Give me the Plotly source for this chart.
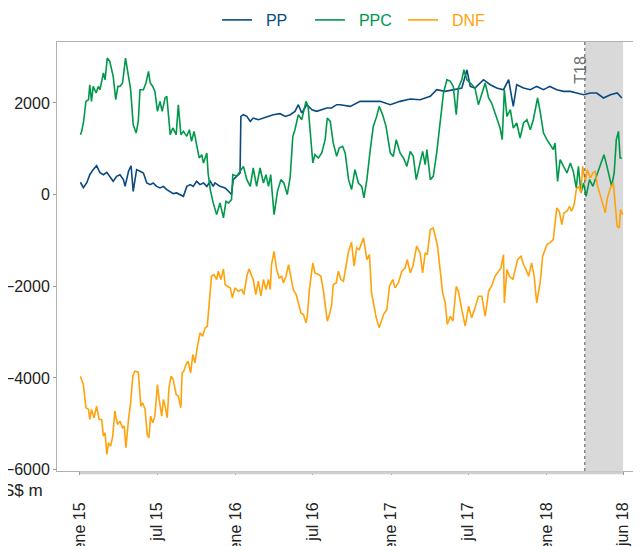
import plotly.graph_objects as go

# ---------------- data ----------------
pp_dates = ["2015-01-02","2015-01-09","2015-01-17","2015-01-24","2015-02-01","2015-02-09","2015-02-17","2015-02-25",
            "2015-03-05","2015-03-12","2015-03-20","2015-03-28","2015-04-05","2015-04-13","2015-04-17","2015-04-25",
            "2015-05-01","2015-05-06","2015-05-14","2015-05-22","2015-05-30","2015-06-07","2015-06-15","2015-06-22",
            "2015-06-30","2015-07-08","2015-07-16","2015-07-24","2015-08-01","2015-08-08","2015-08-16","2015-08-24",
            "2015-09-01","2015-09-09","2015-09-17","2015-09-24","2015-10-02","2015-10-10","2015-10-18","2015-10-26",
            "2015-11-03","2015-11-10","2015-11-14","2015-11-26","2015-12-08","2015-12-20","2015-12-23","2015-12-27",
            "2016-01-04","2016-01-12","2016-01-14","2016-01-20","2016-01-28","2016-02-05","2016-02-12","2016-02-24",
            "2016-03-07","2016-03-19","2016-03-30","2016-04-15","2016-04-27","2016-05-09","2016-05-20","2016-05-28",
            "2016-06-05","2016-06-17","2016-06-29","2016-07-10","2016-07-22","2016-08-03","2016-08-14","2016-08-26",
            "2016-09-03","2016-09-27","2016-10-20","2016-11-13","2016-12-06","2016-12-30","2017-01-22","2017-02-15",
            "2017-03-10","2017-04-03","2017-04-18","2017-05-08","2017-05-27","2017-06-16","2017-06-28","2017-07-06",
            "2017-07-17","2017-08-06","2017-08-22","2017-09-06","2017-09-22","2017-10-04","2017-10-15","2017-10-23",
            "2017-11-08","2017-11-24","2017-12-09","2017-12-25","2018-01-09","2018-01-25","2018-02-10","2018-02-26",
            "2018-03-13","2018-03-29","2018-04-14","2018-04-29","2018-05-15","2018-05-31","2018-06-16","2018-06-27"]
pp_values = [270,150,260,435,545,630,480,435,
             485,400,290,400,435,327,180,510,
             630,72,545,510,470,255,218,255,
             180,145,180,110,72,22,37,0,
             -36,180,218,180,290,218,255,180,
             290,180,255,180,145,37,0,327,
             400,470,1707,1744,1707,1598,1670,1635,
             1670,1707,1744,1766,1707,1744,1817,1962,
             1780,1962,1853,1817,1853,1890,1890,1962,
             1962,1926,2035,2035,2035,1962,2035,2086,
             2071,2144,2289,2253,2289,2325,2720,2361,
             2325,2507,2398,2325,2289,2507,1926,2398,
             2325,2289,2361,2289,2361,2289,2253,2253,
             2217,2180,2217,2217,2108,2180,2217,2108]

ppc_dates = ["2015-01-02","2015-01-05","2015-01-09","2015-01-15","2015-01-21","2015-01-24","2015-01-28","2015-02-01",
             "2015-02-08","2015-02-13","2015-02-17","2015-02-25","2015-03-01","2015-03-06","2015-03-12","2015-03-16",
             "2015-03-20","2015-03-26","2015-03-31","2015-04-05","2015-04-11","2015-04-18","2015-04-25","2015-04-30",
             "2015-05-06","2015-05-13","2015-05-18","2015-05-22","2015-05-30","2015-06-05","2015-06-11","2015-06-15",
             "2015-06-21","2015-06-26","2015-07-02","2015-07-08","2015-07-13","2015-07-20","2015-07-24","2015-08-01",
             "2015-08-07","2015-08-15","2015-08-20","2015-08-26","2015-09-01","2015-09-09","2015-09-15","2015-09-20",
             "2015-09-26","2015-10-02","2015-10-08","2015-10-14","2015-10-18","2015-10-26","2015-10-29","2015-11-03",
             "2015-11-10","2015-11-18","2015-11-26","2015-12-04","2015-12-10","2015-12-16","2015-12-23","2015-12-26",
             "2016-01-04","2016-01-12","2016-01-20","2016-01-28","2016-02-05","2016-02-12","2016-02-20","2016-02-28",
             "2016-03-07","2016-03-13","2016-03-19","2016-03-24","2016-04-01","2016-04-09","2016-04-17","2016-04-24",
             "2016-05-02","2016-05-09","2016-05-15","2016-05-20","2016-05-28","2016-06-05","2016-06-15","2016-06-20",
             "2016-06-25","2016-07-01","2016-07-06","2016-07-14","2016-07-22","2016-07-30","2016-08-04","2016-08-11",
             "2016-08-18","2016-08-26","2016-09-01","2016-09-09","2016-09-15","2016-09-23","2016-09-30","2016-10-08",
             "2016-10-16","2016-10-24","2016-10-29","2016-11-05","2016-11-13","2016-11-20","2016-11-28","2016-12-04",
             "2016-12-12","2016-12-20","2016-12-30","2017-01-06","2017-01-13","2017-01-22","2017-01-30","2017-02-07",
             "2017-02-15","2017-02-22","2017-03-01","2017-03-08","2017-03-16","2017-03-22","2017-03-26","2017-04-03",
             "2017-04-10","2017-04-18","2017-04-26","2017-05-04","2017-05-12","2017-05-20","2017-05-27","2017-06-03",
             "2017-06-08","2017-06-16","2017-06-21","2017-06-28","2017-07-06","2017-07-17","2017-07-25","2017-08-02",
             "2017-08-10","2017-08-18","2017-08-25","2017-09-02","2017-09-10","2017-09-14","2017-09-19","2017-09-24",
             "2017-09-30","2017-10-08","2017-10-15","2017-10-23","2017-10-31","2017-11-08","2017-11-16","2017-11-24",
             "2017-12-01","2017-12-11","2017-12-17","2017-12-25","2018-01-02","2018-01-09","2018-01-17","2018-01-21",
             "2018-01-27","2018-02-02","2018-02-10","2018-02-18","2018-02-26","2018-03-05","2018-03-12","2018-03-17",
             "2018-03-23","2018-03-29","2018-04-04","2018-04-12","2018-04-20","2018-04-28","2018-05-05","2018-05-11",
             "2018-05-16","2018-05-23","2018-05-29","2018-06-03","2018-06-09","2018-06-14","2018-06-19","2018-06-23",
             "2018-06-27"]
ppc_values = [1308,1380,1563,2035,2071,2398,2035,2361,
              2217,2361,2289,2653,2507,2980,2907,2725,
              2580,2071,2361,2361,2435,2980,2580,2289,
              1526,1345,1598,2289,2289,2435,2689,2435,
              2361,2253,1817,2035,1817,2108,2144,1308,
              1454,1308,1962,1308,1380,1272,1417,1163,
              1380,1054,800,872,690,909,470,110,
              -181,-436,-181,-508,-145,-181,-109,436,
              400,508,617,327,181,581,181,581,
              254,436,181,436,-436,72,327,254,
              0,400,1272,1417,1744,1635,2035,1926,
              1272,690,872,800,909,1199,1671,1598,
              1127,835,1017,1054,909,327,110,545,
              254,181,-73,327,981,1489,1707,1926,
              1744,1489,909,835,1199,909,800,617,
              944,835,327,617,944,654,981,327,
              400,909,1635,2217,2507,2471,2361,1744,
              2325,2507,2725,2507,2435,2325,1962,2180,
              2435,2108,1999,1780,1562,1453,1199,2289,
              1707,1853,1453,1562,1236,1562,1635,1417,
              1635,2108,1817,1344,1199,1090,981,1127,
              290,763,617,472,690,508,145,617,
              37,254,-36,327,181,400,617,763,
              872,617,400,181,472,1199,1381,800,
              800]

dnf_dates = ["2015-01-02","2015-01-05","2015-01-09","2015-01-15","2015-01-21","2015-01-24","2015-01-28","2015-02-03",
             "2015-02-09","2015-02-15","2015-02-21","2015-02-25","2015-03-01","2015-03-05","2015-03-09","2015-03-14",
             "2015-03-19","2015-03-24","2015-03-30","2015-04-05","2015-04-11","2015-04-15","2015-04-19","2015-04-25",
             "2015-04-30","2015-05-05","2015-05-10","2015-05-18","2015-05-24","2015-05-28","2015-06-03","2015-06-08",
             "2015-06-12","2015-06-16","2015-06-21","2015-06-26","2015-07-02","2015-07-06","2015-07-12","2015-07-16",
             "2015-07-20","2015-07-25","2015-07-29","2015-08-03","2015-08-08","2015-08-15","2015-08-20","2015-08-26",
             "2015-08-29","2015-09-02","2015-09-07","2015-09-12","2015-09-18","2015-09-23","2015-09-28","2015-10-04",
             "2015-10-10","2015-10-16","2015-10-22","2015-10-27","2015-11-01","2015-11-06","2015-11-12","2015-11-18",
             "2015-11-22","2015-11-28","2015-12-04","2015-12-08","2015-12-13","2015-12-20","2015-12-25","2015-12-31",
             "2016-01-08","2016-01-16","2016-01-21","2016-01-28","2016-02-02","2016-02-08","2016-02-12","2016-02-18",
             "2016-02-24","2016-03-01","2016-03-07","2016-03-13","2016-03-19","2016-03-23","2016-03-26","2016-04-01",
             "2016-04-07","2016-04-13","2016-04-19","2016-04-23","2016-04-29","2016-05-05","2016-05-10","2016-05-16",
             "2016-05-23","2016-05-28","2016-06-03","2016-06-09","2016-06-15","2016-06-18","2016-06-23","2016-07-01",
             "2016-07-06","2016-07-14","2016-07-20","2016-07-26","2016-07-30","2016-08-04","2016-08-09","2016-08-14",
             "2016-08-18","2016-08-25","2016-08-30","2016-09-05","2016-09-11","2016-09-17","2016-09-23","2016-09-30",
             "2016-10-06","2016-10-12","2016-10-18","2016-10-28","2016-11-05","2016-11-11","2016-11-16","2016-11-22",
             "2016-11-27","2016-12-04","2016-12-14","2016-12-22","2016-12-28","2017-01-05","2017-01-10","2017-01-18",
             "2017-01-26","2017-02-03","2017-02-08","2017-02-15","2017-02-21","2017-03-02","2017-03-10","2017-03-16",
             "2017-03-22","2017-03-27","2017-04-03","2017-04-10","2017-04-20","2017-04-26","2017-05-02","2017-05-08",
             "2017-05-13","2017-05-20","2017-05-26","2017-06-03","2017-06-08","2017-06-16","2017-06-24","2017-07-02",
             "2017-07-09","2017-07-17","2017-07-25","2017-08-02","2017-08-10","2017-08-18","2017-08-25","2017-09-02",
             "2017-09-10","2017-09-16","2017-09-22","2017-09-24","2017-09-30","2017-10-06","2017-10-14","2017-10-19",
             "2017-10-25","2017-11-02","2017-11-08","2017-11-14","2017-11-20","2017-11-27","2017-12-03","2017-12-09",
             "2017-12-17","2017-12-23","2018-01-02","2018-01-09","2018-01-17","2018-01-25","2018-01-31","2018-02-06",
             "2018-02-11","2018-02-18","2018-02-24","2018-03-01","2018-03-07","2018-03-12","2018-03-17","2018-03-23",
             "2018-03-27","2018-04-02","2018-04-07","2018-04-14","2018-04-20","2018-04-25","2018-05-01","2018-05-07",
             "2018-05-13","2018-05-19","2018-05-24","2018-05-31","2018-06-07","2018-06-12","2018-06-16","2018-06-21",
             "2018-06-24","2018-06-29"]
dnf_values = [-3962,-4033,-4142,-4651,-4687,-4905,-4687,-4869,
              -4615,-4905,-4905,-5269,-5196,-5668,-5414,-5487,
              -5269,-4723,-5014,-4942,-5087,-5050,-5523,-4905,
              -4542,-3962,-3852,-3873,-4615,-4542,-4687,-5232,
              -5305,-4833,-4978,-4833,-4142,-4469,-4833,-4469,
              -4615,-4869,-4215,-3962,-4033,-4360,-4397,-4651,
              -3889,-3852,-3706,-3634,-3889,-3488,-3670,-3307,
              -3016,-3089,-2907,-2871,-2362,-1781,-1744,-1853,
              -1672,-1853,-1620,-1962,-1999,-2035,-2253,-2035,
              -2108,-2071,-2180,-1781,-1620,-1781,-1853,-2180,
              -1890,-2217,-1853,-2071,-1853,-2071,-1526,-1236,
              -1635,-1817,-1781,-1926,-1781,-1526,-1781,-2071,
              -2180,-2362,-2580,-2616,-2798,-2653,-2071,-1490,
              -1708,-1744,-1781,-2108,-2398,-2762,-2616,-2435,
              -1962,-1926,-1672,-1853,-1890,-1526,-1236,-1040,
              -1563,-1162,-1199,-944,-1417,-1308,-2144,-2435,
              -2689,-2907,-2616,-2507,-1999,-1853,-2035,-1926,
              -1672,-1598,-1417,-1708,-1562,-1126,-1271,-1708,
              -1271,-1308,-763,-727,-1126,-1635,-2144,-2362,
              -2834,-2653,-2762,-1999,-2108,-2507,-2871,-2435,
              -2689,-2471,-2217,-2217,-2653,-2108,-1999,-1781,
              -1672,-1599,-1308,-2362,-1635,-1781,-1853,-1635,
              -1417,-1344,-1526,-1635,-1781,-1490,-1781,-2362,
              -1926,-1344,-1090,-1054,-981,-290,-363,-654,
              -399,-363,-254,-363,-218,109,181,37,
              617,290,545,363,472,508,181,0,
              -218,-399,-73,145,254,-254,-690,-727,
              -327,-436]

tick_dates = ["2015-01-01","2015-07-01","2016-01-01","2016-07-01","2017-01-01","2017-07-01","2018-01-01","2018-06-30"]
tick_labels = ["ene 15","jul 15","ene 16","jul 16","ene 17","jul 17","ene 18","jun 18"]
y_ticks = [-6000, -4000, -2000, 0, 2000]

quarter_start = "2018-04-01"
quarter_end = "2018-06-30"
quarter_label = "T18"
unit_label = "S$ m"

series = [
    ("PP", pp_dates, pp_values, "#0a4a80"),
    ("PPC", ppc_dates, ppc_values, "#00984a"),
    ("DNF", dnf_dates, dnf_values, "#ffa20c"),
]

FONT = "Liberation Sans, Arial, Helvetica, sans-serif"

fig = go.Figure()
for name, xs, ys, col in series:
    fig.add_trace(go.Scatter(
        x=xs, y=ys, mode="lines",
        name=f"<span style='color:{col}'>&nbsp;&nbsp;{name}</span>",
        line=dict(color=col, width=1.6),
    ))

fig.add_shape(type="rect", xref="x", yref="paper", x0=quarter_start, x1=quarter_end,
              y0=0, y1=1, fillcolor="#d9d9d9", line=dict(width=0), layer="below")
fig.add_shape(type="line", xref="x", yref="paper", x0=quarter_start, x1=quarter_start,
              y0=0, y1=1, line=dict(color="#555555", width=1, dash="dot"), layer="above")
fig.add_shape(type="line", xref="x", yref="paper", x0=tick_dates[0], x1=tick_dates[-1],
              y0=-0.004, y1=-0.004, line=dict(color="#cfcfcf", width=3), layer="above")

fig.add_annotation(x=quarter_start, xref="x", y=0.936, yref="paper", text=quarter_label,
                   textangle=-90, showarrow=False, xanchor="right", yanchor="middle",
                   xshift=6, font=dict(family=FONT, size=16, color="#6e6e6e"))
fig.add_annotation(x=-0.0205, xref="paper", y=-0.0443, yref="paper", text=unit_label,
                   showarrow=False, xanchor="right", yanchor="middle",
                   font=dict(family=FONT, size=17, color="#222222"))

# page body has an 8px margin: figure is 633x538 so that it fills the 641x546 window
fig.update_layout(
    width=633, height=538,
    margin=dict(l=49, r=0, t=34, b=75, autoexpand=False),
    paper_bgcolor="white", plot_bgcolor="white",
    font=dict(family=FONT, size=16, color="#222222"),
    showlegend=True,
    legend=dict(orientation="h", x=0.274, xanchor="left", y=1.0513, yanchor="middle",
                font=dict(size=16), itemwidth=30, entrywidth=48, entrywidthmode="pixels",
                bgcolor="rgba(0,0,0,0)"),
    xaxis=dict(type="date", range=["2014-11-08", "2018-08-11"],
               tickvals=tick_dates, ticktext=tick_labels, tickangle=-90,
               ticks="outside", ticklen=3, tickcolor="#9a9a9a",
               showgrid=False, zeroline=False, showline=True, linecolor="#b0b0b0",
               linewidth=1, mirror=True, automargin=False, ticklabelstandoff=21,
               tickfont=dict(size=16, color="#222222")),
    yaxis=dict(range=[-6030, 3330], tickvals=y_ticks, ticks="outside", ticklen=3,
               tickcolor="#9a9a9a", showgrid=False, zeroline=False, showline=True,
               linecolor="#b0b0b0", linewidth=1, automargin=False,
               tickfont=dict(size=16, color="#222222")),
)

fig.write_html("out.html")
